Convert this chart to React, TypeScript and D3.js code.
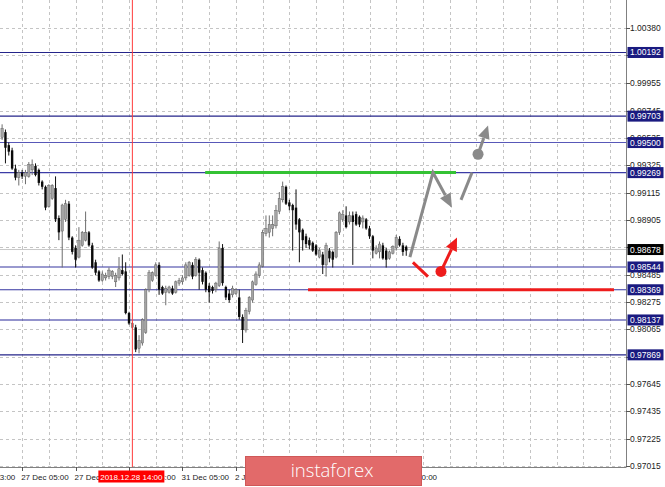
import React from 'react';
import * as d3 from 'd3';

// ---- data (H1 bars) ----
const OPEN = [0.9954,0.9958,0.9948,0.9944,0.9930,0.9923,0.9927,0.9924,0.9924,0.9929,0.9932,0.9929,0.9920,0.9916,0.9901,0.9907,0.9915,0.9892,0.9882,0.9891,0.9903,0.9877,0.9869,0.9862,0.9871,0.9875,0.9881,0.9871,0.9858,0.9851,0.9844,0.9846,0.9847,0.9847,0.9843,0.9846,0.9852,0.9851,0.9819,0.9808,0.9808,0.9792,0.9796,0.9804,0.9837,0.9844,0.9848,0.9856,0.9839,0.9835,0.9835,0.9838,0.9835,0.9842,0.9843,0.9846,0.9848,0.9856,0.9848,0.9860,0.9852,0.9850,0.9840,0.9839,0.9837,0.9840,0.9869,0.9839,0.9834,0.9833,0.9834,0.9831,0.9816,0.9806,0.9820,0.9829,0.9841,0.9848,0.9855,0.9880,0.9881,0.9884,0.9886,0.9897,0.9906,0.9916,0.9904,0.9902,0.9900,0.9891,0.9883,0.9878,0.9875,0.9873,0.9871,0.9862,0.9864,0.9856,0.9867,0.9866,0.9862,0.9881,0.9891,0.9894,0.9889,0.9894,0.9895,0.9893,0.9889,0.9891,0.9884,0.9878,0.9865,0.9866,0.9871,0.9867,0.9861,0.9865,0.9869,0.9876,0.9871,0.9870];
const HIGH = [0.9964,0.9960,0.9950,0.9946,0.9933,0.9929,0.9929,0.9929,0.9935,0.9937,0.9934,0.9930,0.9921,0.9917,0.9918,0.9918,0.9924,0.9894,0.9903,0.9906,0.9905,0.9878,0.9871,0.9885,0.9882,0.9897,0.9882,0.9873,0.9860,0.9852,0.9851,0.9850,0.9854,0.9852,0.9850,0.9862,0.9864,0.9858,0.9820,0.9812,0.9810,0.9802,0.9815,0.9838,0.9852,0.9851,0.9858,0.9858,0.9840,0.9840,0.9840,0.9840,0.9844,0.9846,0.9848,0.9858,0.9859,0.9858,0.9862,0.9861,0.9854,0.9851,0.9842,0.9840,0.9843,0.9874,0.9872,0.9840,0.9837,0.9840,0.9838,0.9837,0.9818,0.9823,0.9832,0.9844,0.9851,0.9858,0.9883,0.9894,0.9894,0.9894,0.9902,0.9912,0.9920,0.9917,0.9906,0.9903,0.9914,0.9892,0.9884,0.9880,0.9877,0.9874,0.9872,0.9869,0.9866,0.9873,0.9869,0.9867,0.9882,0.9897,0.9898,0.9901,0.9897,0.9897,0.9897,0.9894,0.9894,0.9892,0.9886,0.9879,0.9871,0.9874,0.9873,0.9869,0.9867,0.9871,0.9879,0.9878,0.9873,0.9871];
const LOW = [0.9952,0.9934,0.9940,0.9929,0.9921,0.9917,0.9922,0.9918,0.9923,0.9925,0.9924,0.9917,0.9914,0.9898,0.9900,0.9906,0.9889,0.9875,0.9854,0.9889,0.9875,0.9864,0.9854,0.9861,0.9870,0.9874,0.9870,0.9853,0.9848,0.9843,0.9843,0.9844,0.9845,0.9845,0.9839,0.9844,0.9848,0.9818,0.9810,0.9807,0.9789,0.9788,0.9794,0.9803,0.9835,0.9843,0.9847,0.9833,0.9833,0.9825,0.9834,0.9833,0.9834,0.9840,0.9841,0.9844,0.9847,0.9845,0.9847,0.9837,0.9841,0.9835,0.9827,0.9834,0.9835,0.9839,0.9840,0.9829,0.9827,0.9831,0.9833,0.9814,0.9796,0.9804,0.9818,0.9827,0.9840,0.9846,0.9854,0.9878,0.9877,0.9878,0.9884,0.9895,0.9904,0.9902,0.9898,0.9867,0.9883,0.9858,0.9867,0.9869,0.9868,0.9866,0.9863,0.9861,0.9849,0.9847,0.9858,0.9854,0.9861,0.9879,0.9889,0.9884,0.9887,0.9856,0.9886,0.9885,0.9884,0.9883,0.9876,0.9861,0.9864,0.9861,0.9860,0.9854,0.9860,0.9864,0.9867,0.9870,0.9863,0.9863];
const CLOSE = [0.9961,0.9946,0.9943,0.9930,0.9923,0.9927,0.9924,0.9927,0.9933,0.9933,0.9925,0.9919,0.9916,0.9900,0.9917,0.9917,0.9891,0.9881,0.9902,0.9903,0.9877,0.9866,0.9860,0.9875,0.9881,0.9881,0.9871,0.9854,0.9850,0.9844,0.9849,0.9848,0.9852,0.9851,0.9848,0.9853,0.9849,0.9819,0.9811,0.9811,0.9791,0.9798,0.9814,0.9837,0.9850,0.9850,0.9856,0.9837,0.9834,0.9838,0.9839,0.9834,0.9843,0.9844,0.9846,0.9856,0.9858,0.9847,0.9860,0.9850,0.9843,0.9837,0.9835,0.9836,0.9842,0.9869,0.9842,0.9831,0.9829,0.9838,0.9837,0.9816,0.9806,0.9821,0.9831,0.9843,0.9849,0.9856,0.9881,0.9884,0.9887,0.9887,0.9898,0.9907,0.9916,0.9903,0.9901,0.9898,0.9887,0.9881,0.9875,0.9872,0.9871,0.9867,0.9864,0.9867,0.9856,0.9871,0.9861,0.9860,0.9881,0.9896,0.9895,0.9885,0.9894,0.9889,0.9887,0.9887,0.9892,0.9884,0.9878,0.9867,0.9869,0.9872,0.9861,0.9860,0.9866,0.9870,0.9877,0.9871,0.9866,0.9867];

const PRICE_TICKS = ['1.00380','1.00170','0.99955','0.99745','0.99535','0.99325','0.99115','0.98905','0.98695','0.98485','0.98275','0.98065','0.97855','0.97645','0.97435','0.97225','0.97015'];
const LEVELS = [1.00192, 0.99703, 0.99500, 0.99269, 0.98544, 0.98369, 0.98137, 0.97869];
const LEVEL_COLORS = ['#25258a','#25258a','#5858b8','#3c3ca6','#3434a0','#3434a0','#28289a','#25258a'];
const BID = 0.98678;
const TIME_TICK_IDX = [-10, 6, 22, 38, 54, 70, 86, 102, 118];
const TIME_LABELS = ['26 Dec 13:00','27 Dec 05:00','27 Dec 21:00','28 Dec 13:00','31 Dec 05:00','2 Jan 00:00','2 Jan 16:00','3 Jan 08:00','4 Jan 00:00'];
const CURSOR_IDX = 39;
const CURSOR_LABEL = '2018.12.28 14:00';

// forecast drawings (bar index, price)
const GREEN_LINE = [[60.8, 0.99269], [135.9, 0.99269]];
const RED_LINE = [[91.6, 0.98369], [183.2, 0.98369]];
const GRAY_PATH = [[122.1, 0.9862], [129.0, 0.9927], [134.7, 0.9900]];
const GRAY_SEG = [[137.4, 0.9906], [140.7, 0.9927]];
const GRAY_DOT_ARROW = [[142.5, 0.9941], [145.5, 0.9963]];
const RED_SEG = [[123.0, 0.9858], [127.5, 0.9847]];
const RED_DOT_ARROW = [[131.4, 0.9851], [136.2, 0.9877]];

const PLOT_R = 626;
const PLOT_B = 467;
const FONT = '"Liberation Sans", Arial, sans-serif';
const LOGO = { x: 245.5, y: 456.5, w: 176, h: 29 };

function head(x1: number, y1: number, x2: number, y2: number, len = 14, hw = 6) {
  const dx = x2 - x1, dy = y2 - y1;
  const L = Math.hypot(dx, dy);
  const ux = dx / L, uy = dy / L;
  const bx = x2 - ux * len, by = y2 - uy * len;
  const px = -uy * hw, py = ux * hw;
  return { bx, by, pts: `${x2},${y2} ${bx + px},${by + py} ${bx - px},${by - py}` };
}

export default function App() {
  const N = OPEN.length;
  const x = d3.scaleLinear().domain([0, N - 1]).range([2.1, 2.1 + (N - 1) * 3.34]);
  const y = d3.scaleLinear().domain([0.97015, 1.0038]).range([466, 28]);

  const gridX: number[] = [];
  for (let i = -2; x(i) < PLOT_R; i += 8) gridX.push(x(i));

  const P = (p: number[]) => [x(p[0]), y(p[1])];
  const line = d3.line();

  const g1 = GRAY_PATH.map(P) as [number, number][];
  const gh = head(g1[1][0], g1[1][1], g1[2][0], g1[2][1]);
  const gseg = GRAY_SEG.map(P);
  const gda = GRAY_DOT_ARROW.map(P);
  const gdh = head(gda[0][0], gda[0][1], gda[1][0], gda[1][1], 13, 6);
  const rseg = RED_SEG.map(P);
  const rda = RED_DOT_ARROW.map(P);
  const rdh = head(rda[0][0], rda[0][1], rda[1][0], rda[1][1], 13, 6);

  const cx = x(CURSOR_IDX);
  const gray = '#8a8a8a';
  const red = '#ee1c1c';

  // time labels completely covered by the logo are not drawn
  const visibleTime = TIME_TICK_IDX.map((ti, k) => ({ ti, label: TIME_LABELS[k] }))
    .filter((d) => !(x(d.ti) > LOGO.x && x(d.ti) + 44 < LOGO.x + LOGO.w));

  return (
    <svg width={665} height={487} style={{ position: 'fixed', left: 0, top: 0, background: '#fff' }} fontFamily={FONT}>
      <rect x={0} y={0} width={665} height={487} fill="#fff" />
      {/* grid */}
      {PRICE_TICKS.map((t) => (
        <line key={'gy' + t} x1={0} x2={PLOT_R} y1={Math.round(y(+t)) + 0.5} y2={Math.round(y(+t)) + 0.5} stroke="#c4c4c4" strokeDasharray="3,3" />
      ))}
      {gridX.map((gx, i) => (
        <line key={'gx' + i} x1={Math.round(gx) + 0.5} x2={Math.round(gx) + 0.5} y1={0} y2={PLOT_B} stroke="#c4c4c4" strokeDasharray="3,3" />
      ))}
      {/* bid line */}
      <line x1={0} x2={PLOT_R} y1={y(BID)} y2={y(BID)} stroke="#c8c8c8" strokeWidth={1} />
      {/* levels */}
      {LEVELS.map((l, i) => (
        <line key={'lv' + l} x1={0} x2={PLOT_R} y1={y(l)} y2={y(l)} stroke={LEVEL_COLORS[i]} strokeWidth={1.1} />
      ))}
      {/* green and red horizontal drawings */}
      <path d={line(GREEN_LINE.map(P) as any) || ''} stroke="#34c234" strokeWidth={3} fill="none" />
      <path d={line(RED_LINE.map(P) as any) || ''} stroke={red} strokeWidth={3} fill="none" />
      {/* candles */}
      {OPEN.map((o, i) => {
        const c = CLOSE[i];
        const bull = c >= o;
        const xi = x(i);
        const top = y(Math.max(o, c));
        const bot = y(Math.min(o, c));
        return (
          <g key={'c' + i}>
            <line x1={xi} x2={xi} y1={y(HIGH[i])} y2={y(LOW[i])} stroke={bull ? '#6e6e6e' : '#111'} strokeWidth={1} />
            <rect x={xi - 1.2} y={top} width={2.4} height={Math.max(1, bot - top)} fill={bull ? '#a4a4a4' : '#0a0a0a'} stroke={bull ? '#555' : 'none'} strokeWidth={0.4} />
          </g>
        );
      })}
      {/* cursor line */}
      <line x1={cx} x2={cx} y1={0} y2={PLOT_B} stroke="#ff3b3b" strokeWidth={1} />
      {/* gray forecast */}
      <path d={line([g1[0], g1[1], [gh.bx, gh.by]] as any) || ''} stroke={gray} strokeWidth={3} fill="none" strokeLinejoin="miter" />
      <polygon points={gh.pts} fill={gray} />
      <path d={line(gseg as any) || ''} stroke={gray} strokeWidth={3} fill="none" />
      <circle cx={gda[0][0]} cy={gda[0][1]} r={5.5} fill={gray} />
      <line x1={gda[0][0]} y1={gda[0][1]} x2={gdh.bx} y2={gdh.by} stroke={gray} strokeWidth={3} />
      <polygon points={gdh.pts} fill={gray} />
      {/* red forecast */}
      <path d={line(rseg as any) || ''} stroke={red} strokeWidth={3} fill="none" />
      <circle cx={rda[0][0]} cy={rda[0][1]} r={5.5} fill={red} />
      <line x1={rda[0][0]} y1={rda[0][1]} x2={rdh.bx} y2={rdh.by} stroke={red} strokeWidth={3} />
      <polygon points={rdh.pts} fill={red} />
      {/* axes */}
      <line x1={PLOT_R + 0.5} x2={PLOT_R + 0.5} y1={0} y2={PLOT_B} stroke="#808080" />
      <line x1={0} x2={PLOT_R + 0.5} y1={PLOT_B + 0.5} y2={PLOT_B + 0.5} stroke="#808080" />
      {PRICE_TICKS.map((t) => (
        <g key={'pt' + t}>
          <line x1={PLOT_R} x2={PLOT_R + 4} y1={Math.round(y(+t)) + 0.5} y2={Math.round(y(+t)) + 0.5} stroke="#555" />
          <text x={630} y={y(+t)} dy="0.35em" fontSize={8.5} fill="#222">{t}</text>
        </g>
      ))}
      {LEVELS.map((l) => (
        <g key={'lb' + l}>
          <rect x={627.5} y={y(l) - 5.5} width={36} height={11} fill="#1a1a80" />
          <text x={630} y={y(l)} dy="0.35em" fontSize={8.5} fill="#fff">{l.toFixed(5)}</text>
        </g>
      ))}
      <rect x={627.5} y={y(BID) - 5.5} width={36} height={11} fill="#000" />
      <text x={630} y={y(BID)} dy="0.35em" fontSize={8.5} fill="#fff">{BID.toFixed(5)}</text>
      {TIME_TICK_IDX.map((ti) => (
        <line key={'tt' + ti} x1={Math.round(x(ti)) + 0.5} x2={Math.round(x(ti)) + 0.5} y1={PLOT_B} y2={PLOT_B + 4} stroke="#555" />
      ))}
      {visibleTime.map((d) => (
        <text key={'tl' + d.ti} x={x(d.ti) - 1} y={480} fontSize={8} fill="#222">{d.label}</text>
      ))}
      <rect x={cx - 34} y={470.5} width={66} height={12} fill="#ff0000" />
      <text x={cx - 1} y={480} fontSize={8} fill="#fff" textAnchor="middle">{CURSOR_LABEL}</text>
      {/* logo */}
      <rect x={LOGO.x} y={LOGO.y} width={LOGO.w} height={LOGO.h} fill="#e26a6a" stroke="#cf5858" strokeWidth={1} />
      <text x={332} y={477} fontSize={18.5} fill="#fff" textAnchor="middle" fontFamily='"Open Sans", sans-serif' fontWeight={300}>instaforex</text>
    </svg>
  );
}
